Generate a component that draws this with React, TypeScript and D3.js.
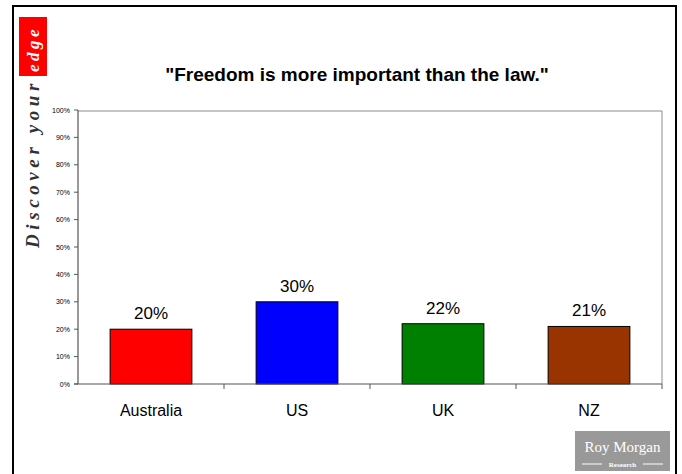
import React from "react";
import * as d3 from "d3";

const categories = ["Australia", "US", "UK", "NZ"];
const values = [20, 30, 22, 21];
const colors = ["#FF0000", "#0000FF", "#008000", "#993300"];
const yTicks = [0, 10, 20, 30, 40, 50, 60, 70, 80, 90, 100];
const title = "\"Freedom is more important than the law.\"";

export default function App() {
  const W = 682, H = 474;
  const left = 78, right = 662, top = 110, bottom = 384;
  const x = d3.scaleBand<string>().domain(categories).range([left, right]).paddingInner(0.44).paddingOuter(0.22);
  const xb = d3.scaleBand<string>().domain(categories).range([left, right]);
  const y = d3.scaleLinear().domain([0, 100]).range([bottom, top]);
  const font = "Liberation Sans, Arial, sans-serif";
  return (
    <svg width={W} height={H} style={{ position: "absolute", left: 0, top: 0, background: "#fff" }}>
      {/* frame */}
      <path d={`M13,${H + 5} V6 H676 V${H + 5}`} fill="none" stroke="#000" strokeWidth={2} />
      {/* discover your edge */}
      <rect x={19} y={17} width={28} height={59} fill="#FF0000" />
      <text transform="translate(39,72) rotate(-90)" fill="#fff" fontFamily="Liberation Serif, Times New Roman, serif"
        fontStyle="italic" fontWeight="bold" fontSize={17} letterSpacing={3.5}>edge</text>
      <text transform="translate(39,248) rotate(-90)" fill="#333" fontFamily="Liberation Serif, Times New Roman, serif"
        fontStyle="italic" fontWeight="bold" fontSize={19} letterSpacing={4.6}>Discover your</text>
      {/* title */}
      <text x={357} y={81} textAnchor="middle" fontFamily={font} fontWeight="bold" fontSize={19} fill="#000">{title}</text>
      {/* plot border top/right */}
      <path d={`M${left},${top + 1} H${right} V${bottom}`} fill="none" stroke="#8c8c8c" strokeWidth={1} />
      {/* bars */}
      {categories.map((c, i) => (
        <g key={c}>
          <rect x={x(c)} y={y(values[i])} width={x.bandwidth()} height={bottom - y(values[i])}
            fill={colors[i]} stroke="#000" strokeWidth={1} />
          <text x={(x(c) as number) + x.bandwidth() / 2} y={y(values[i]) - 10} textAnchor="middle"
            fontFamily={font} fontSize={17} fill="#000">{values[i]}%</text>
          <text x={(x(c) as number) + x.bandwidth() / 2} y={416} textAnchor="middle"
            fontFamily={font} fontSize={16} fill="#000">{c}</text>
        </g>
      ))}
      {/* y axis */}
      <line x1={left} x2={left} y1={top} y2={bottom} stroke="#555" strokeWidth={1.2} />
      {yTicks.map((t) => (
        <g key={t}>
          <line x1={left - 4} x2={left} y1={y(t)} y2={y(t)} stroke="#555" strokeWidth={1} />
          <text x={left - 8} y={y(t) + 2.5} textAnchor="end" fontFamily={font} fontSize={7} fill="#000">{t}%</text>
        </g>
      ))}
      {/* x axis */}
      <line x1={left - 4} x2={right} y1={bottom} y2={bottom} stroke="#555" strokeWidth={1.2} />
      {categories.map((c) => (
        <line key={c} x1={(xb(c) as number) + xb.bandwidth()} x2={(xb(c) as number) + xb.bandwidth()}
          y1={bottom} y2={bottom + 5} stroke="#555" strokeWidth={1} />
      ))}
      {/* logo */}
      <rect x={575} y={431} width={95} height={40} fill="#999" />
      <text x={622.5} y={452} textAnchor="middle" fontFamily="Liberation Serif, Times New Roman, serif" fontSize={15} fill="#fff">Roy Morgan</text>
      <line x1={582} x2={602} y1={464} y2={464} stroke="#fff" strokeWidth={1} />
      <line x1={643} x2={663} y1={464} y2={464} stroke="#fff" strokeWidth={1} />
      <text x={622.5} y={466.5} textAnchor="middle" fontFamily="Liberation Serif, Times New Roman, serif" fontSize={7} fontWeight="bold" fill="#fff">Research</text>
    </svg>
  );
}
